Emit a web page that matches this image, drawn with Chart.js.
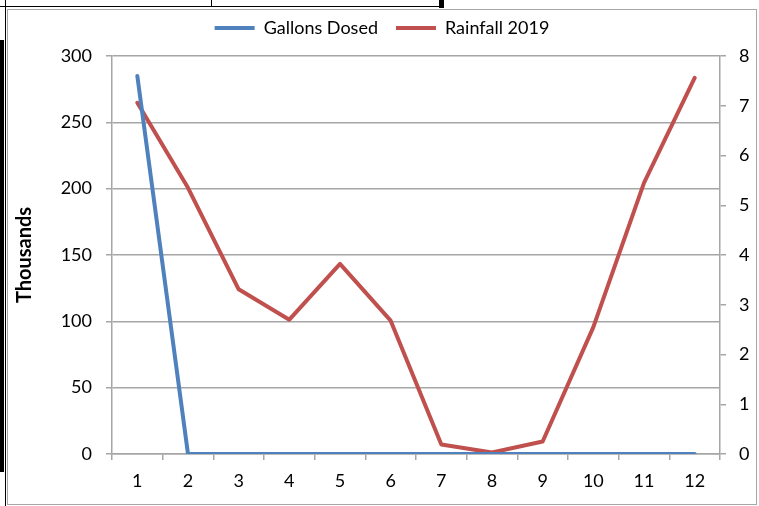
<!DOCTYPE html>
<html>
<head>
<meta charset="utf-8">
<script src="https://cdn.jsdelivr.net/npm/chart.js@4/dist/chart.umd.min.js"></script>
<style>
  html, body { margin: 0; padding: 0; background: #fff; overflow: hidden; }
  .cell { position: absolute; background: #000; }
  #frame {
    position: absolute; left: 7px; top: 9px; width: 750px; height: 496px;
    box-sizing: border-box; border: 1px solid #a6a6a6; background: #fff;
  }
  #frame canvas { display: block; }
</style>
</head>
<body>
<!-- sheet cell borders around the embedded chart -->
<div class="cell" style="left:0;top:6px;width:444px;height:1px"></div>
<div class="cell" style="left:211px;top:0;width:1px;height:7px"></div>
<div class="cell" style="left:439px;top:0;width:5px;height:8px"></div>
<div class="cell" style="left:0;top:40px;width:4px;height:432px"></div>
<div class="cell" style="left:5px;top:0;width:1px;height:506px"></div>

<div id="frame"><canvas id="chart" width="748" height="494"></canvas></div>

<script>
const months = ['1', '2', '3', '4', '5', '6', '7', '8', '9', '10', '11', '12'];
// thousands of gallons
const gallonsDosed = [285, 0, 0, 0, 0, 0, 0, 0, 0, 0, 0, 0];
// inches
const rainfall2019 = [7.06, 5.35, 3.31, 2.7, 3.82, 2.68, 0.19, 0.03, 0.25, 2.55, 5.45, 7.56];

const FONT = 'Lato, "Open Sans", sans-serif';
const GRID = '#a6a6a6';

// push the legend up a little so it sits nearer the frame top
const legendNudge = {
  id: 'legendNudge',
  afterLayout(chart) {
    const lg = chart.legend;
    if (!lg) return;
    lg.top -= 9;
    lg.bottom -= 9;
  }
};

new Chart(document.getElementById('chart'), {
  type: 'line',
  data: {
    labels: months,
    datasets: [
      {
        label: 'Gallons Dosed',
        data: gallonsDosed,
        yAxisID: 'y',
        borderColor: '#4f81bd',
        backgroundColor: '#4f81bd',
        borderWidth: 4,
        pointRadius: 0,
        borderCapStyle: 'round',
        borderJoinStyle: 'round',
        tension: 0
      },
      {
        label: 'Rainfall 2019',
        data: rainfall2019,
        yAxisID: 'y1',
        borderColor: '#c0504d',
        backgroundColor: '#c0504d',
        borderWidth: 4,
        pointRadius: 0,
        borderCapStyle: 'round',
        borderJoinStyle: 'round',
        tension: 0
      }
    ]
  },
  options: {
    responsive: false,
    animation: false,
    events: [],
    layout: { padding: 0 },
    plugins: {
      tooltip: { enabled: false },
      legend: {
        position: 'top',
        labels: {
          usePointStyle: true,
          pointStyle: 'line',
          pointStyleWidth: 40,
          padding: 18,
          color: '#000',
          font: { family: FONT, size: 18 }
        }
      }
    },
    scales: {
      x: {
        offset: true,
        grid: { offset: true, drawOnChartArea: false, tickLength: 6, color: GRID, lineWidth: 1.5 },
        border: { color: GRID, width: 1.5 },
        ticks: { color: '#000', padding: 10, font: { family: FONT, size: 18 } },
        afterFit(scale) { scale.height = 50; }
      },
      y: {
        position: 'left',
        min: 0,
        max: 300,
        ticks: { stepSize: 50, color: '#000', padding: 14, font: { family: FONT, size: 18 } },
        grid: { color: GRID, lineWidth: 1.5, tickLength: 6 },
        border: { color: GRID, width: 1.5 },
        title: {
          display: true,
          text: 'Thousands',
          color: '#000',
          padding: { top: 5, bottom: 0 },
          font: { family: FONT, size: 20, weight: 'bold' }
        },
        afterFit(scale) { scale.width = 104; }
      },
      y1: {
        position: 'right',
        min: 0,
        max: 8,
        ticks: { stepSize: 1, color: '#000', padding: 13, font: { family: FONT, size: 18 } },
        grid: { drawOnChartArea: false, color: GRID, lineWidth: 1.5, tickLength: 6 },
        border: { color: GRID, width: 1.5 },
        afterFit(scale) { scale.width = 36; }
      }
    }
  },
  plugins: [legendNudge]
});
</script>
</body>
</html>
